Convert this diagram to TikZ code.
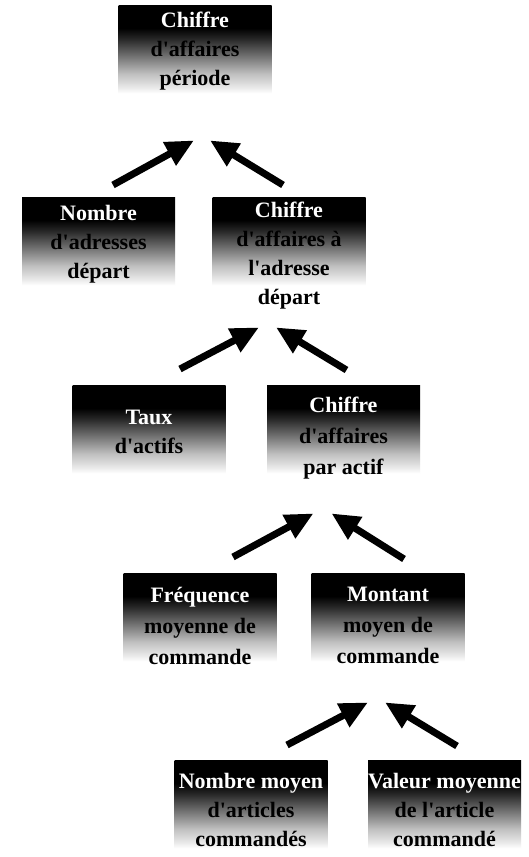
\documentclass[tikz,border=0pt]{standalone}
\usepackage{fontspec}
\setmainfont{Liberation Serif}[Ligatures=TeXOff]
\usetikzlibrary{arrows.meta,calc}
\pgfdeclareverticalshading{boxshade}{100bp}{color(0bp)=(white); color(25bp)=(white); color(28bp)=(black!8); color(36bp)=(black!25); color(46bp)=(black!55); color(56bp)=(black!85); color(62bp)=(black); color(100bp)=(black)}
\begin{document}
\begin{tikzpicture}[x=1pt,y=-1pt,
  shbox/.style={shading=boxshade, draw=none, minimum width=153pt, minimum height=88pt, inner sep=0pt, anchor=north},
  lbl/.style={anchor=north, align=center, inner sep=0pt, font=\bfseries\fontsize{22}{29}\selectfont},
  lblw/.style={lbl, font=\bfseries\fontsize{22}{31}\selectfont},
  bigarrow/.style={line width=7pt, -{Triangle[length=28pt,width=25pt]}}]
\useasboundingbox (0,0) rectangle (529,857);
\fill[white] (0,0) rectangle (529,857);
% boxes
\node[shbox] (b1) at (195,5) {};
\node[shbox] (b2) at (98.5,197) {};
\node[shbox] (b3) at (289,197) {};
\node[shbox] (b4) at (149,385) {};
\node[shbox] (b5) at (343.5,385) {};
\node[shbox] (b6) at (200,573) {};
\node[shbox] (b7) at (388,573) {};
\node[shbox] (b8) at (251,760) {};
\node[shbox] (b9) at (444.5,760) {};
% labels
\node[lbl] (t1) at (195,12) {\textcolor{white}{Chiffre}\\d'affaires\\période};
\node[lbl] (t2) at (98.5,205) {\textcolor{white}{Nombre}\\d'adresses\\départ};
\node[lbl] (t3) at (289,202) {\textcolor{white}{Chiffre}\\d'affaires à\\l'adresse\\départ};
\node[lbl] (t4) at (149,410) {\textcolor{white}{Taux}\\d'actifs};
\node[lblw] (t5) at (343.5,397) {\textcolor{white}{Chiffre}\\d'affaires\\par actif};
\node[lblw] (t6) at (200,587) {\textcolor{white}{Fréquence}\\moyenne de\\commande};
\node[lblw] (t7) at (388,587) {\textcolor{white}{Montant}\\moyen de\\commande};
\node[lbl] (t8) at (251,773) {\textcolor{white}{Nombre moyen}\\d'articles\\commandés};
\node[lbl] (t9) at (444.5,773) {\textcolor{white}{Valeur moyenne}\\de l'article\\commandé};
% arrows
\draw[bigarrow] ($(b2.north)+(14.5,-12)$) -- ($(b1.south)+(-1,47)$);
\draw[bigarrow] ($(b3.north)+(-6,-12)$) -- ($(b1.south)+(15,47)$);
\draw[bigarrow] ($(b4.north)+(31,-16)$) -- ($(b3.south)+(-30,42)$);
\draw[bigarrow] ($(b5.north)+(3,-15)$) -- ($(b3.south)+(-13,42)$);
\draw[bigarrow] ($(b6.north)+(33,-16)$) -- ($(b5.south)+(-30,40)$);
\draw[bigarrow] ($(b7.north)+(16,-14)$) -- ($(b5.south)+(-12,40)$);
\draw[bigarrow] ($(b8.north)+(36,-15)$) -- ($(b7.south)+(-20,41)$);
\draw[bigarrow] ($(b9.north)+(12.5,-14)$) -- ($(b7.south)+(-3,41)$);
\end{tikzpicture}
\end{document}
